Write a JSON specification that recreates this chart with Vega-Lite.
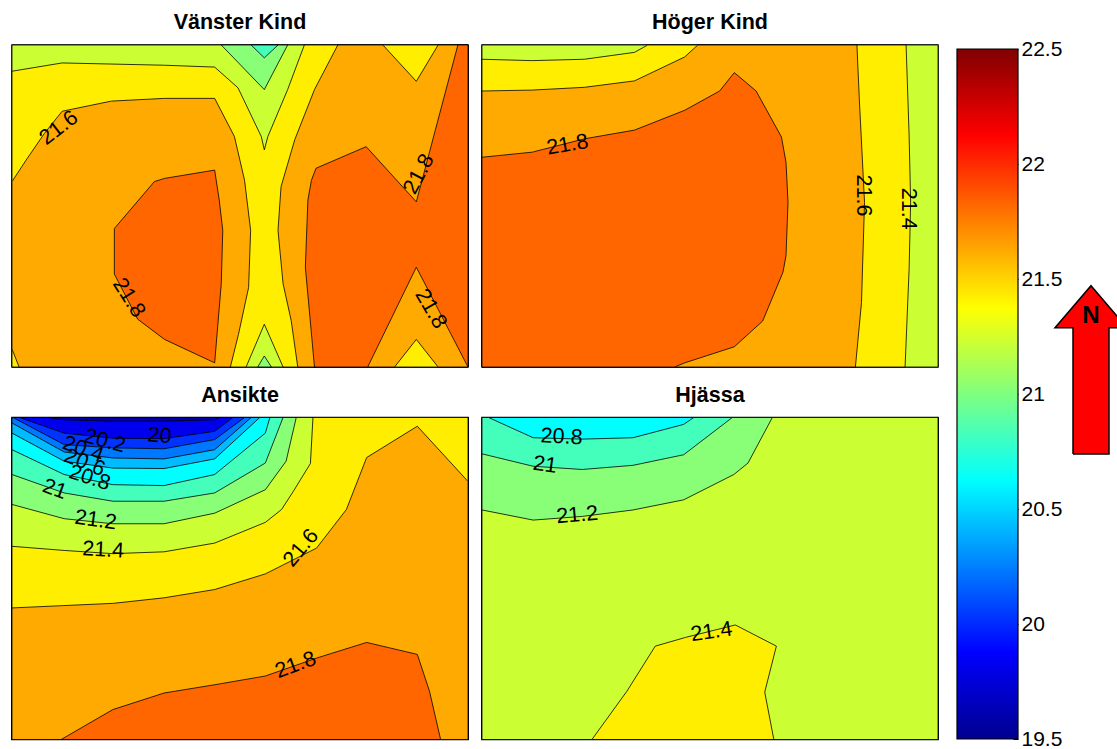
{
  "$schema": "https://vega.github.io/schema/vega-lite/v6.json",
  "background": "white",
  "padding": {"left": 10, "top": 0, "right": 0, "bottom": 0},
  "config": {"font": "Liberation Sans", "view": {"stroke": "black", "strokeWidth": 1.5}},
  "datasets": {
    "contours": [
      {"p":"Vänster Kind","k":"poly","id":"g01","lev":21.2,"x":0,"y":0},
      {"p":"Vänster Kind","k":"poly","id":"g01","lev":21.2,"x":9,"y":0},
      {"p":"Vänster Kind","k":"poly","id":"g01","lev":21.2,"x":9,"y":7},
      {"p":"Vänster Kind","k":"poly","id":"g01","lev":21.2,"x":0,"y":7},
      {"p":"Vänster Kind","k":"poly","id":"g01","lev":21.2,"x":0,"y":0},

      {"p":"Vänster Kind","k":"poly","id":"g02","lev":21.4,"x":0,"y":6.43},
      {"p":"Vänster Kind","k":"poly","id":"g02","lev":21.4,"x":0.99,"y":6.61},
      {"p":"Vänster Kind","k":"poly","id":"g02","lev":21.4,"x":3.01,"y":6.56},
      {"p":"Vänster Kind","k":"poly","id":"g02","lev":21.4,"x":4,"y":6.52},
      {"p":"Vänster Kind","k":"poly","id":"g02","lev":21.4,"x":4.46,"y":6.07},
      {"p":"Vänster Kind","k":"poly","id":"g02","lev":21.4,"x":4.92,"y":5.01},
      {"p":"Vänster Kind","k":"poly","id":"g02","lev":21.4,"x":4.98,"y":4.72},
      {"p":"Vänster Kind","k":"poly","id":"g02","lev":21.4,"x":5.05,"y":5.01},
      {"p":"Vänster Kind","k":"poly","id":"g02","lev":21.4,"x":5.44,"y":6.03},
      {"p":"Vänster Kind","k":"poly","id":"g02","lev":21.4,"x":5.77,"y":7},
      {"p":"Vänster Kind","k":"poly","id":"g02","lev":21.4,"x":9,"y":7},
      {"p":"Vänster Kind","k":"poly","id":"g02","lev":21.4,"x":9,"y":0},
      {"p":"Vänster Kind","k":"poly","id":"g02","lev":21.4,"x":5.35,"y":0},
      {"p":"Vänster Kind","k":"poly","id":"g02","lev":21.4,"x":4.98,"y":0.93},
      {"p":"Vänster Kind","k":"poly","id":"g02","lev":21.4,"x":4.62,"y":0},
      {"p":"Vänster Kind","k":"poly","id":"g02","lev":21.4,"x":0,"y":0},
      {"p":"Vänster Kind","k":"poly","id":"g02","lev":21.4,"x":0,"y":6.43},

      {"p":"Vänster Kind","k":"poly","id":"g03","lev":21.6,"x":0,"y":4.03},
      {"p":"Vänster Kind","k":"poly","id":"g03","lev":21.6,"x":0.28,"y":4.5},
      {"p":"Vänster Kind","k":"poly","id":"g03","lev":21.6,"x":0.64,"y":5.08},
      {"p":"Vänster Kind","k":"poly","id":"g03","lev":21.6,"x":0.99,"y":5.56},
      {"p":"Vänster Kind","k":"poly","id":"g03","lev":21.6,"x":1.96,"y":5.78},
      {"p":"Vänster Kind","k":"poly","id":"g03","lev":21.6,"x":3.01,"y":5.84},
      {"p":"Vänster Kind","k":"poly","id":"g03","lev":21.6,"x":4,"y":5.84},
      {"p":"Vänster Kind","k":"poly","id":"g03","lev":21.6,"x":4.39,"y":5.01},
      {"p":"Vänster Kind","k":"poly","id":"g03","lev":21.6,"x":4.59,"y":4.06},
      {"p":"Vänster Kind","k":"poly","id":"g03","lev":21.6,"x":4.71,"y":2.97},
      {"p":"Vänster Kind","k":"poly","id":"g03","lev":21.6,"x":4.67,"y":1.73},
      {"p":"Vänster Kind","k":"poly","id":"g03","lev":21.6,"x":4.47,"y":0.71},
      {"p":"Vänster Kind","k":"poly","id":"g03","lev":21.6,"x":4.31,"y":0},
      {"p":"Vänster Kind","k":"poly","id":"g03","lev":21.6,"x":0.14,"y":0},
      {"p":"Vänster Kind","k":"poly","id":"g03","lev":21.6,"x":0,"y":0.39},
      {"p":"Vänster Kind","k":"poly","id":"g03","lev":21.6,"x":0,"y":4.03},

      {"p":"Vänster Kind","k":"poly","id":"g04","lev":21.6,"x":6.43,"y":7},
      {"p":"Vänster Kind","k":"poly","id":"g04","lev":21.6,"x":7.32,"y":7},
      {"p":"Vänster Kind","k":"poly","id":"g04","lev":21.6,"x":7.98,"y":6.21},
      {"p":"Vänster Kind","k":"poly","id":"g04","lev":21.6,"x":8.41,"y":7},
      {"p":"Vänster Kind","k":"poly","id":"g04","lev":21.6,"x":9,"y":7},
      {"p":"Vänster Kind","k":"poly","id":"g04","lev":21.6,"x":9,"y":0},
      {"p":"Vänster Kind","k":"poly","id":"g04","lev":21.6,"x":8.41,"y":0},
      {"p":"Vänster Kind","k":"poly","id":"g04","lev":21.6,"x":7.98,"y":0.6},
      {"p":"Vänster Kind","k":"poly","id":"g04","lev":21.6,"x":7.55,"y":0},
      {"p":"Vänster Kind","k":"poly","id":"g04","lev":21.6,"x":5.64,"y":0},
      {"p":"Vänster Kind","k":"poly","id":"g04","lev":21.6,"x":5.51,"y":1.01},
      {"p":"Vänster Kind","k":"poly","id":"g04","lev":21.6,"x":5.35,"y":1.81},
      {"p":"Vänster Kind","k":"poly","id":"g04","lev":21.6,"x":5.25,"y":2.97},
      {"p":"Vänster Kind","k":"poly","id":"g04","lev":21.6,"x":5.31,"y":3.92},
      {"p":"Vänster Kind","k":"poly","id":"g04","lev":21.6,"x":5.58,"y":4.94},
      {"p":"Vänster Kind","k":"poly","id":"g04","lev":21.6,"x":5.97,"y":6.03},
      {"p":"Vänster Kind","k":"poly","id":"g04","lev":21.6,"x":6.43,"y":7},

      {"p":"Vänster Kind","k":"poly","id":"g05","lev":21.8,"x":2.02,"y":3.01},
      {"p":"Vänster Kind","k":"poly","id":"g05","lev":21.8,"x":2.81,"y":4.03},
      {"p":"Vänster Kind","k":"poly","id":"g05","lev":21.8,"x":3.01,"y":4.1},
      {"p":"Vänster Kind","k":"poly","id":"g05","lev":21.8,"x":4,"y":4.28},
      {"p":"Vänster Kind","k":"poly","id":"g05","lev":21.8,"x":4.09,"y":3.63},
      {"p":"Vänster Kind","k":"poly","id":"g05","lev":21.8,"x":4.16,"y":2.97},
      {"p":"Vänster Kind","k":"poly","id":"g05","lev":21.8,"x":4.13,"y":1.81},
      {"p":"Vänster Kind","k":"poly","id":"g05","lev":21.8,"x":4,"y":0.09},
      {"p":"Vänster Kind","k":"poly","id":"g05","lev":21.8,"x":3.01,"y":0.6},
      {"p":"Vänster Kind","k":"poly","id":"g05","lev":21.8,"x":2.48,"y":1.04},
      {"p":"Vänster Kind","k":"poly","id":"g05","lev":21.8,"x":2.02,"y":2.02},
      {"p":"Vänster Kind","k":"poly","id":"g05","lev":21.8,"x":2.02,"y":3.01},

      {"p":"Vänster Kind","k":"poly","id":"g06","lev":21.8,"x":6,"y":4.32},
      {"p":"Vänster Kind","k":"poly","id":"g06","lev":21.8,"x":6.99,"y":4.79},
      {"p":"Vänster Kind","k":"poly","id":"g06","lev":21.8,"x":7.98,"y":3.59},
      {"p":"Vänster Kind","k":"poly","id":"g06","lev":21.8,"x":8.8,"y":7},
      {"p":"Vänster Kind","k":"poly","id":"g06","lev":21.8,"x":9,"y":7},
      {"p":"Vänster Kind","k":"poly","id":"g06","lev":21.8,"x":9,"y":0},
      {"p":"Vänster Kind","k":"poly","id":"g06","lev":21.8,"x":7.98,"y":2.17},
      {"p":"Vänster Kind","k":"poly","id":"g06","lev":21.8,"x":7.02,"y":0},
      {"p":"Vänster Kind","k":"poly","id":"g06","lev":21.8,"x":5.97,"y":0},
      {"p":"Vänster Kind","k":"poly","id":"g06","lev":21.8,"x":5.79,"y":2.17},
      {"p":"Vänster Kind","k":"poly","id":"g06","lev":21.8,"x":5.84,"y":3.63},
      {"p":"Vänster Kind","k":"poly","id":"g06","lev":21.8,"x":5.91,"y":4.06},
      {"p":"Vänster Kind","k":"poly","id":"g06","lev":21.8,"x":6,"y":4.32},

      {"p":"Vänster Kind","k":"poly","id":"g07","lev":21,"x":4.13,"y":7},
      {"p":"Vänster Kind","k":"poly","id":"g07","lev":21,"x":4.98,"y":6.03},
      {"p":"Vänster Kind","k":"poly","id":"g07","lev":21,"x":5.44,"y":7},
      {"p":"Vänster Kind","k":"poly","id":"g07","lev":21,"x":4.13,"y":7},

      {"p":"Vänster Kind","k":"poly","id":"g08","lev":20.8,"x":4.72,"y":7},
      {"p":"Vänster Kind","k":"poly","id":"g08","lev":20.8,"x":4.98,"y":6.72},
      {"p":"Vänster Kind","k":"poly","id":"g08","lev":20.8,"x":5.25,"y":7},
      {"p":"Vänster Kind","k":"poly","id":"g08","lev":20.8,"x":4.72,"y":7},

      {"p":"Vänster Kind","k":"poly","id":"g09","lev":21,"x":4.85,"y":0},
      {"p":"Vänster Kind","k":"poly","id":"g09","lev":21,"x":4.98,"y":0.24},
      {"p":"Vänster Kind","k":"poly","id":"g09","lev":21,"x":5.12,"y":0},
      {"p":"Vänster Kind","k":"poly","id":"g09","lev":21,"x":4.85,"y":0},

      {"p":"Höger Kind","k":"poly","id":"g10","lev":21.2,"x":0,"y":0},
      {"p":"Höger Kind","k":"poly","id":"g10","lev":21.2,"x":9,"y":0},
      {"p":"Höger Kind","k":"poly","id":"g10","lev":21.2,"x":9,"y":7},
      {"p":"Höger Kind","k":"poly","id":"g10","lev":21.2,"x":0,"y":7},
      {"p":"Höger Kind","k":"poly","id":"g10","lev":21.2,"x":0,"y":0},

      {"p":"Höger Kind","k":"poly","id":"g11","lev":21.4,"x":0,"y":6.69},
      {"p":"Höger Kind","k":"poly","id":"g11","lev":21.4,"x":0.99,"y":6.66},
      {"p":"Höger Kind","k":"poly","id":"g11","lev":21.4,"x":2.02,"y":6.69},
      {"p":"Höger Kind","k":"poly","id":"g11","lev":21.4,"x":3.01,"y":6.84},
      {"p":"Höger Kind","k":"poly","id":"g11","lev":21.4,"x":3.27,"y":7},
      {"p":"Höger Kind","k":"poly","id":"g11","lev":21.4,"x":8.37,"y":7},
      {"p":"Höger Kind","k":"poly","id":"g11","lev":21.4,"x":8.43,"y":5.04},
      {"p":"Höger Kind","k":"poly","id":"g11","lev":21.4,"x":8.46,"y":3.58},
      {"p":"Höger Kind","k":"poly","id":"g11","lev":21.4,"x":8.43,"y":2.13},
      {"p":"Höger Kind","k":"poly","id":"g11","lev":21.4,"x":8.35,"y":0},
      {"p":"Höger Kind","k":"poly","id":"g11","lev":21.4,"x":0,"y":0},
      {"p":"Höger Kind","k":"poly","id":"g11","lev":21.4,"x":0,"y":6.69},

      {"p":"Höger Kind","k":"poly","id":"g12","lev":21.6,"x":0,"y":6},
      {"p":"Höger Kind","k":"poly","id":"g12","lev":21.6,"x":0.99,"y":6.02},
      {"p":"Höger Kind","k":"poly","id":"g12","lev":21.6,"x":2.02,"y":6.08},
      {"p":"Höger Kind","k":"poly","id":"g12","lev":21.6,"x":3.01,"y":6.22},
      {"p":"Höger Kind","k":"poly","id":"g12","lev":21.6,"x":4,"y":6.74},
      {"p":"Höger Kind","k":"poly","id":"g12","lev":21.6,"x":4.26,"y":7},
      {"p":"Höger Kind","k":"poly","id":"g12","lev":21.6,"x":7.4,"y":7},
      {"p":"Höger Kind","k":"poly","id":"g12","lev":21.6,"x":7.45,"y":5.76},
      {"p":"Höger Kind","k":"poly","id":"g12","lev":21.6,"x":7.55,"y":3.58},
      {"p":"Höger Kind","k":"poly","id":"g12","lev":21.6,"x":7.49,"y":1.4},
      {"p":"Höger Kind","k":"poly","id":"g12","lev":21.6,"x":7.37,"y":0},
      {"p":"Höger Kind","k":"poly","id":"g12","lev":21.6,"x":0,"y":0},
      {"p":"Höger Kind","k":"poly","id":"g12","lev":21.6,"x":0,"y":6},

      {"p":"Höger Kind","k":"poly","id":"g13","lev":21.8,"x":0,"y":4.56},
      {"p":"Höger Kind","k":"poly","id":"g13","lev":21.8,"x":0.99,"y":4.67},
      {"p":"Höger Kind","k":"poly","id":"g13","lev":21.8,"x":2.02,"y":4.96},
      {"p":"Höger Kind","k":"poly","id":"g13","lev":21.8,"x":3.01,"y":5.15},
      {"p":"Höger Kind","k":"poly","id":"g13","lev":21.8,"x":4,"y":5.58},
      {"p":"Höger Kind","k":"poly","id":"g13","lev":21.8,"x":4.69,"y":6},
      {"p":"Höger Kind","k":"poly","id":"g13","lev":21.8,"x":4.98,"y":6.4},
      {"p":"Höger Kind","k":"poly","id":"g13","lev":21.8,"x":5.41,"y":6},
      {"p":"Höger Kind","k":"poly","id":"g13","lev":21.8,"x":5.91,"y":5},
      {"p":"Höger Kind","k":"poly","id":"g13","lev":21.8,"x":6,"y":4.45},
      {"p":"Höger Kind","k":"poly","id":"g13","lev":21.8,"x":6.04,"y":3.58},
      {"p":"Höger Kind","k":"poly","id":"g13","lev":21.8,"x":6,"y":2.42},
      {"p":"Höger Kind","k":"poly","id":"g13","lev":21.8,"x":5.94,"y":2.06},
      {"p":"Höger Kind","k":"poly","id":"g13","lev":21.8,"x":5.54,"y":1},
      {"p":"Höger Kind","k":"poly","id":"g13","lev":21.8,"x":4.98,"y":0.44},
      {"p":"Höger Kind","k":"poly","id":"g13","lev":21.8,"x":4,"y":0.09},
      {"p":"Höger Kind","k":"poly","id":"g13","lev":21.8,"x":3.8,"y":0},
      {"p":"Höger Kind","k":"poly","id":"g13","lev":21.8,"x":0,"y":0},
      {"p":"Höger Kind","k":"poly","id":"g13","lev":21.8,"x":0,"y":4.56},

      {"p":"Ansikte","k":"poly","id":"g14","lev":19.6,"x":0,"y":0},
      {"p":"Ansikte","k":"poly","id":"g14","lev":19.6,"x":9,"y":0},
      {"p":"Ansikte","k":"poly","id":"g14","lev":19.6,"x":9,"y":7},
      {"p":"Ansikte","k":"poly","id":"g14","lev":19.6,"x":0,"y":7},
      {"p":"Ansikte","k":"poly","id":"g14","lev":19.6,"x":0,"y":0},

      {"p":"Ansikte","k":"poly","id":"g15","lev":19.8,"x":0.71,"y":7},
      {"p":"Ansikte","k":"poly","id":"g15","lev":19.8,"x":1.03,"y":6.95},
      {"p":"Ansikte","k":"poly","id":"g15","lev":19.8,"x":1.99,"y":6.92},
      {"p":"Ansikte","k":"poly","id":"g15","lev":19.8,"x":3,"y":6.92},
      {"p":"Ansikte","k":"poly","id":"g15","lev":19.8,"x":4,"y":6.95},
      {"p":"Ansikte","k":"poly","id":"g15","lev":19.8,"x":4.1,"y":7},
      {"p":"Ansikte","k":"poly","id":"g15","lev":19.8,"x":9,"y":7},
      {"p":"Ansikte","k":"poly","id":"g15","lev":19.8,"x":9,"y":0},
      {"p":"Ansikte","k":"poly","id":"g15","lev":19.8,"x":0,"y":0},
      {"p":"Ansikte","k":"poly","id":"g15","lev":19.8,"x":0,"y":7},
      {"p":"Ansikte","k":"poly","id":"g15","lev":19.8,"x":0.71,"y":7},

      {"p":"Ansikte","k":"poly","id":"g16","lev":20,"x":0.15,"y":7},
      {"p":"Ansikte","k":"poly","id":"g16","lev":20,"x":1.03,"y":6.66},
      {"p":"Ansikte","k":"poly","id":"g16","lev":20,"x":1.99,"y":6.55},
      {"p":"Ansikte","k":"poly","id":"g16","lev":20,"x":3,"y":6.54},
      {"p":"Ansikte","k":"poly","id":"g16","lev":20,"x":4,"y":6.7},
      {"p":"Ansikte","k":"poly","id":"g16","lev":20,"x":4.36,"y":7},
      {"p":"Ansikte","k":"poly","id":"g16","lev":20,"x":9,"y":7},
      {"p":"Ansikte","k":"poly","id":"g16","lev":20,"x":9,"y":0},
      {"p":"Ansikte","k":"poly","id":"g16","lev":20,"x":0,"y":0},
      {"p":"Ansikte","k":"poly","id":"g16","lev":20,"x":0,"y":7},
      {"p":"Ansikte","k":"poly","id":"g16","lev":20,"x":0.15,"y":7},

      {"p":"Ansikte","k":"poly","id":"g17","lev":20.2,"x":0.02,"y":7},
      {"p":"Ansikte","k":"poly","id":"g17","lev":20.2,"x":1.03,"y":6.41},
      {"p":"Ansikte","k":"poly","id":"g17","lev":20.2,"x":1.99,"y":6.34},
      {"p":"Ansikte","k":"poly","id":"g17","lev":20.2,"x":3,"y":6.32},
      {"p":"Ansikte","k":"poly","id":"g17","lev":20.2,"x":4,"y":6.52},
      {"p":"Ansikte","k":"poly","id":"g17","lev":20.2,"x":4.59,"y":7},
      {"p":"Ansikte","k":"poly","id":"g17","lev":20.2,"x":9,"y":7},
      {"p":"Ansikte","k":"poly","id":"g17","lev":20.2,"x":9,"y":0},
      {"p":"Ansikte","k":"poly","id":"g17","lev":20.2,"x":0,"y":0},
      {"p":"Ansikte","k":"poly","id":"g17","lev":20.2,"x":0,"y":7},
      {"p":"Ansikte","k":"poly","id":"g17","lev":20.2,"x":0.02,"y":7},

      {"p":"Ansikte","k":"poly","id":"g18","lev":20.4,"x":0,"y":6.88},
      {"p":"Ansikte","k":"poly","id":"g18","lev":20.4,"x":1.03,"y":6.25},
      {"p":"Ansikte","k":"poly","id":"g18","lev":20.4,"x":1.99,"y":6.12},
      {"p":"Ansikte","k":"poly","id":"g18","lev":20.4,"x":3,"y":6.1},
      {"p":"Ansikte","k":"poly","id":"g18","lev":20.4,"x":4,"y":6.3},
      {"p":"Ansikte","k":"poly","id":"g18","lev":20.4,"x":4.72,"y":7},
      {"p":"Ansikte","k":"poly","id":"g18","lev":20.4,"x":9,"y":7},
      {"p":"Ansikte","k":"poly","id":"g18","lev":20.4,"x":9,"y":0},
      {"p":"Ansikte","k":"poly","id":"g18","lev":20.4,"x":0,"y":0},
      {"p":"Ansikte","k":"poly","id":"g18","lev":20.4,"x":0,"y":6.88},

      {"p":"Ansikte","k":"poly","id":"g19","lev":20.6,"x":0,"y":6.66},
      {"p":"Ansikte","k":"poly","id":"g19","lev":20.6,"x":1.03,"y":6.05},
      {"p":"Ansikte","k":"poly","id":"g19","lev":20.6,"x":1.99,"y":5.9},
      {"p":"Ansikte","k":"poly","id":"g19","lev":20.6,"x":3,"y":5.89},
      {"p":"Ansikte","k":"poly","id":"g19","lev":20.6,"x":4,"y":6.1},
      {"p":"Ansikte","k":"poly","id":"g19","lev":20.6,"x":4.89,"y":7},
      {"p":"Ansikte","k":"poly","id":"g19","lev":20.6,"x":9,"y":7},
      {"p":"Ansikte","k":"poly","id":"g19","lev":20.6,"x":9,"y":0},
      {"p":"Ansikte","k":"poly","id":"g19","lev":20.6,"x":0,"y":0},
      {"p":"Ansikte","k":"poly","id":"g19","lev":20.6,"x":0,"y":6.66},

      {"p":"Ansikte","k":"poly","id":"g20","lev":20.8,"x":0,"y":6.3},
      {"p":"Ansikte","k":"poly","id":"g20","lev":20.8,"x":1.03,"y":5.76},
      {"p":"Ansikte","k":"poly","id":"g20","lev":20.8,"x":1.99,"y":5.54},
      {"p":"Ansikte","k":"poly","id":"g20","lev":20.8,"x":3,"y":5.52},
      {"p":"Ansikte","k":"poly","id":"g20","lev":20.8,"x":4,"y":5.76},
      {"p":"Ansikte","k":"poly","id":"g20","lev":20.8,"x":5,"y":6.66},
      {"p":"Ansikte","k":"poly","id":"g20","lev":20.8,"x":5.09,"y":7},
      {"p":"Ansikte","k":"poly","id":"g20","lev":20.8,"x":9,"y":7},
      {"p":"Ansikte","k":"poly","id":"g20","lev":20.8,"x":9,"y":0},
      {"p":"Ansikte","k":"poly","id":"g20","lev":20.8,"x":0,"y":0},
      {"p":"Ansikte","k":"poly","id":"g20","lev":20.8,"x":0,"y":6.3},

      {"p":"Ansikte","k":"poly","id":"g21","lev":21,"x":0,"y":5.76},
      {"p":"Ansikte","k":"poly","id":"g21","lev":21,"x":1.03,"y":5.36},
      {"p":"Ansikte","k":"poly","id":"g21","lev":21,"x":1.99,"y":5.18},
      {"p":"Ansikte","k":"poly","id":"g21","lev":21,"x":3,"y":5.18},
      {"p":"Ansikte","k":"poly","id":"g21","lev":21,"x":4,"y":5.36},
      {"p":"Ansikte","k":"poly","id":"g21","lev":21,"x":5,"y":6.01},
      {"p":"Ansikte","k":"poly","id":"g21","lev":21,"x":5.35,"y":7},
      {"p":"Ansikte","k":"poly","id":"g21","lev":21,"x":9,"y":7},
      {"p":"Ansikte","k":"poly","id":"g21","lev":21,"x":9,"y":0},
      {"p":"Ansikte","k":"poly","id":"g21","lev":21,"x":0,"y":0},
      {"p":"Ansikte","k":"poly","id":"g21","lev":21,"x":0,"y":5.76},

      {"p":"Ansikte","k":"poly","id":"g22","lev":21.2,"x":0,"y":5.11},
      {"p":"Ansikte","k":"poly","id":"g22","lev":21.2,"x":1.03,"y":4.8},
      {"p":"Ansikte","k":"poly","id":"g22","lev":21.2,"x":1.99,"y":4.69},
      {"p":"Ansikte","k":"poly","id":"g22","lev":21.2,"x":3,"y":4.69},
      {"p":"Ansikte","k":"poly","id":"g22","lev":21.2,"x":4,"y":4.92},
      {"p":"Ansikte","k":"poly","id":"g22","lev":21.2,"x":5,"y":5.43},
      {"p":"Ansikte","k":"poly","id":"g22","lev":21.2,"x":5.41,"y":6.05},
      {"p":"Ansikte","k":"poly","id":"g22","lev":21.2,"x":5.61,"y":7},
      {"p":"Ansikte","k":"poly","id":"g22","lev":21.2,"x":9,"y":7},
      {"p":"Ansikte","k":"poly","id":"g22","lev":21.2,"x":9,"y":0},
      {"p":"Ansikte","k":"poly","id":"g22","lev":21.2,"x":0,"y":0},
      {"p":"Ansikte","k":"poly","id":"g22","lev":21.2,"x":0,"y":5.11},

      {"p":"Ansikte","k":"poly","id":"g23","lev":21.4,"x":0,"y":4.2},
      {"p":"Ansikte","k":"poly","id":"g23","lev":21.4,"x":1.03,"y":4.11},
      {"p":"Ansikte","k":"poly","id":"g23","lev":21.4,"x":1.99,"y":4.04},
      {"p":"Ansikte","k":"poly","id":"g23","lev":21.4,"x":3,"y":4.08},
      {"p":"Ansikte","k":"poly","id":"g23","lev":21.4,"x":4,"y":4.27},
      {"p":"Ansikte","k":"poly","id":"g23","lev":21.4,"x":5,"y":4.72},
      {"p":"Ansikte","k":"poly","id":"g23","lev":21.4,"x":5.32,"y":5},
      {"p":"Ansikte","k":"poly","id":"g23","lev":21.4,"x":5.55,"y":5.39},
      {"p":"Ansikte","k":"poly","id":"g23","lev":21.4,"x":5.89,"y":6},
      {"p":"Ansikte","k":"poly","id":"g23","lev":21.4,"x":5.94,"y":7},
      {"p":"Ansikte","k":"poly","id":"g23","lev":21.4,"x":9,"y":7},
      {"p":"Ansikte","k":"poly","id":"g23","lev":21.4,"x":9,"y":0},
      {"p":"Ansikte","k":"poly","id":"g23","lev":21.4,"x":0,"y":0},
      {"p":"Ansikte","k":"poly","id":"g23","lev":21.4,"x":0,"y":4.2},

      {"p":"Ansikte","k":"poly","id":"g24","lev":21.6,"x":0,"y":2.86},
      {"p":"Ansikte","k":"poly","id":"g24","lev":21.6,"x":1,"y":2.91},
      {"p":"Ansikte","k":"poly","id":"g24","lev":21.6,"x":2,"y":2.96},
      {"p":"Ansikte","k":"poly","id":"g24","lev":21.6,"x":3,"y":3.08},
      {"p":"Ansikte","k":"poly","id":"g24","lev":21.6,"x":4,"y":3.26},
      {"p":"Ansikte","k":"poly","id":"g24","lev":21.6,"x":5,"y":3.6},
      {"p":"Ansikte","k":"poly","id":"g24","lev":21.6,"x":6.01,"y":4.16},
      {"p":"Ansikte","k":"poly","id":"g24","lev":21.6,"x":6.6,"y":5},
      {"p":"Ansikte","k":"poly","id":"g24","lev":21.6,"x":7,"y":6.13},
      {"p":"Ansikte","k":"poly","id":"g24","lev":21.6,"x":8,"y":6.81},
      {"p":"Ansikte","k":"poly","id":"g24","lev":21.6,"x":9,"y":5.61},
      {"p":"Ansikte","k":"poly","id":"g24","lev":21.6,"x":9,"y":0},
      {"p":"Ansikte","k":"poly","id":"g24","lev":21.6,"x":0,"y":0},
      {"p":"Ansikte","k":"poly","id":"g24","lev":21.6,"x":0,"y":2.86},

      {"p":"Ansikte","k":"poly","id":"g25","lev":21.8,"x":0.97,"y":0},
      {"p":"Ansikte","k":"poly","id":"g25","lev":21.8,"x":1.99,"y":0.65},
      {"p":"Ansikte","k":"poly","id":"g25","lev":21.8,"x":3,"y":1.01},
      {"p":"Ansikte","k":"poly","id":"g25","lev":21.8,"x":4,"y":1.19},
      {"p":"Ansikte","k":"poly","id":"g25","lev":21.8,"x":5,"y":1.38},
      {"p":"Ansikte","k":"poly","id":"g25","lev":21.8,"x":6.01,"y":1.77},
      {"p":"Ansikte","k":"poly","id":"g25","lev":21.8,"x":7,"y":2.11},
      {"p":"Ansikte","k":"poly","id":"g25","lev":21.8,"x":8,"y":1.85},
      {"p":"Ansikte","k":"poly","id":"g25","lev":21.8,"x":8.24,"y":1.05},
      {"p":"Ansikte","k":"poly","id":"g25","lev":21.8,"x":8.46,"y":0},
      {"p":"Ansikte","k":"poly","id":"g25","lev":21.8,"x":0.97,"y":0},

      {"p":"Hjässa","k":"poly","id":"g26","lev":20.6,"x":0,"y":0},
      {"p":"Hjässa","k":"poly","id":"g26","lev":20.6,"x":9,"y":0},
      {"p":"Hjässa","k":"poly","id":"g26","lev":20.6,"x":9,"y":7},
      {"p":"Hjässa","k":"poly","id":"g26","lev":20.6,"x":0,"y":7},
      {"p":"Hjässa","k":"poly","id":"g26","lev":20.6,"x":0,"y":0},

      {"p":"Hjässa","k":"poly","id":"g27","lev":20.8,"x":0,"y":7},
      {"p":"Hjässa","k":"poly","id":"g27","lev":20.8,"x":0.13,"y":7},
      {"p":"Hjässa","k":"poly","id":"g27","lev":20.8,"x":1.01,"y":6.56},
      {"p":"Hjässa","k":"poly","id":"g27","lev":20.8,"x":1.98,"y":6.53},
      {"p":"Hjässa","k":"poly","id":"g27","lev":20.8,"x":2.98,"y":6.56},
      {"p":"Hjässa","k":"poly","id":"g27","lev":20.8,"x":3.98,"y":6.85},
      {"p":"Hjässa","k":"poly","id":"g27","lev":20.8,"x":4.18,"y":7},
      {"p":"Hjässa","k":"poly","id":"g27","lev":20.8,"x":9,"y":7},
      {"p":"Hjässa","k":"poly","id":"g27","lev":20.8,"x":9,"y":0},
      {"p":"Hjässa","k":"poly","id":"g27","lev":20.8,"x":0,"y":0},
      {"p":"Hjässa","k":"poly","id":"g27","lev":20.8,"x":0,"y":7},

      {"p":"Hjässa","k":"poly","id":"g28","lev":21,"x":0,"y":6.21},
      {"p":"Hjässa","k":"poly","id":"g28","lev":21,"x":1.01,"y":5.94},
      {"p":"Hjässa","k":"poly","id":"g28","lev":21,"x":1.98,"y":5.87},
      {"p":"Hjässa","k":"poly","id":"g28","lev":21,"x":2.98,"y":5.96},
      {"p":"Hjässa","k":"poly","id":"g28","lev":21,"x":3.98,"y":6.19},
      {"p":"Hjässa","k":"poly","id":"g28","lev":21,"x":4.94,"y":7},
      {"p":"Hjässa","k":"poly","id":"g28","lev":21,"x":9,"y":7},
      {"p":"Hjässa","k":"poly","id":"g28","lev":21,"x":9,"y":0},
      {"p":"Hjässa","k":"poly","id":"g28","lev":21,"x":0,"y":0},
      {"p":"Hjässa","k":"poly","id":"g28","lev":21,"x":0,"y":6.21},

      {"p":"Hjässa","k":"poly","id":"g29","lev":21.2,"x":0,"y":4.99},
      {"p":"Hjässa","k":"poly","id":"g29","lev":21.2,"x":1.01,"y":4.77},
      {"p":"Hjässa","k":"poly","id":"g29","lev":21.2,"x":1.98,"y":4.85},
      {"p":"Hjässa","k":"poly","id":"g29","lev":21.2,"x":2.98,"y":4.99},
      {"p":"Hjässa","k":"poly","id":"g29","lev":21.2,"x":3.98,"y":5.21},
      {"p":"Hjässa","k":"poly","id":"g29","lev":21.2,"x":4.97,"y":5.76},
      {"p":"Hjässa","k":"poly","id":"g29","lev":21.2,"x":5.25,"y":6.01},
      {"p":"Hjässa","k":"poly","id":"g29","lev":21.2,"x":5.73,"y":7},
      {"p":"Hjässa","k":"poly","id":"g29","lev":21.2,"x":9,"y":7},
      {"p":"Hjässa","k":"poly","id":"g29","lev":21.2,"x":9,"y":0},
      {"p":"Hjässa","k":"poly","id":"g29","lev":21.2,"x":0,"y":0},
      {"p":"Hjässa","k":"poly","id":"g29","lev":21.2,"x":0,"y":4.99},

      {"p":"Hjässa","k":"poly","id":"g30","lev":21.4,"x":2.17,"y":0},
      {"p":"Hjässa","k":"poly","id":"g30","lev":21.4,"x":2.86,"y":1.05},
      {"p":"Hjässa","k":"poly","id":"g30","lev":21.4,"x":3.42,"y":2.03},
      {"p":"Hjässa","k":"poly","id":"g30","lev":21.4,"x":4.02,"y":2.22},
      {"p":"Hjässa","k":"poly","id":"g30","lev":21.4,"x":5,"y":2.49},
      {"p":"Hjässa","k":"poly","id":"g30","lev":21.4,"x":5.81,"y":2.03},
      {"p":"Hjässa","k":"poly","id":"g30","lev":21.4,"x":5.58,"y":1.03},
      {"p":"Hjässa","k":"poly","id":"g30","lev":21.4,"x":5.76,"y":0},
      {"p":"Hjässa","k":"poly","id":"g30","lev":21.4,"x":2.17,"y":0},

      {"p":"Vänster Kind","k":"lab","t":"21.6","x":0.93,"y":5.19,"a":-38},
      {"p":"Vänster Kind","k":"lab","t":"21.8","x":2.3,"y":1.5,"a":58},
      {"p":"Vänster Kind","k":"lab","t":"21.8","x":8.04,"y":4.19,"a":-62},
      {"p":"Vänster Kind","k":"lab","t":"21.8","x":8.26,"y":1.26,"a":60},
      {"p":"Höger Kind","k":"lab","t":"21.8","x":1.69,"y":4.82,"a":-10},
      {"p":"Höger Kind","k":"lab","t":"21.6","x":7.52,"y":3.73,"a":90},
      {"p":"Höger Kind","k":"lab","t":"21.4","x":8.41,"y":3.44,"a":90},
      {"p":"Ansikte","k":"lab","t":"20","x":2.91,"y":6.59,"a":5},
      {"p":"Ansikte","k":"lab","t":"20.2","x":1.83,"y":6.48,"a":15},
      {"p":"Ansikte","k":"lab","t":"20.4","x":1.4,"y":6.3,"a":20},
      {"p":"Ansikte","k":"lab","t":"20.6","x":1.43,"y":6.01,"a":22},
      {"p":"Ansikte","k":"lab","t":"20.8","x":1.53,"y":5.68,"a":18},
      {"p":"Ansikte","k":"lab","t":"21","x":0.84,"y":5.43,"a":20},
      {"p":"Ansikte","k":"lab","t":"21.2","x":1.65,"y":4.76,"a":8},
      {"p":"Ansikte","k":"lab","t":"21.4","x":1.8,"y":4.11,"a":3},
      {"p":"Ansikte","k":"lab","t":"21.6","x":5.71,"y":4.16,"a":-50},
      {"p":"Ansikte","k":"lab","t":"21.8","x":5.6,"y":1.61,"a":-20},
      {"p":"Hjässa","k":"lab","t":"20.8","x":1.57,"y":6.57,"a":3},
      {"p":"Hjässa","k":"lab","t":"21","x":1.24,"y":5.96,"a":8},
      {"p":"Hjässa","k":"lab","t":"21.2","x":1.88,"y":4.87,"a":-5},
      {"p":"Hjässa","k":"lab","t":"21.4","x":4.53,"y":2.33,"a":-8}
    ],
    "bar": [{"lo": 19.5, "hi": 22.5}],
    "arrow": [
      {"ax": 11.6, "ay": 4.13},
      {"ax": 11.6, "ay": 5.96},
      {"ax": 9.8, "ay": 5.96},
      {"ax": 13.4, "ay": 6.57},
      {"ax": 17.0, "ay": 5.96},
      {"ax": 15.2, "ay": 5.96},
      {"ax": 15.2, "ay": 4.13},
      {"ax": 11.6, "ay": 4.13}
    ],
    "north": [{"t": "N", "ax": 13.4, "ay": 6.13}]
  },
  "spacing": 16,
  "hconcat": [
    {
      "data": {"name": "contours"},
      "columns": 2,
      "spacing": {"row": 14.5, "column": 10},
      "facet": {
        "field": "p", "type": "nominal",
        "sort": ["Vänster Kind", "Höger Kind", "Ansikte", "Hjässa"],
        "title": null,
        "header": {"labelFontSize": 21.5, "labelFontWeight": "bold", "labelColor": "black", "labelPadding": 11, "labelFont": "Liberation Sans"}
      },
      "spec": {
        "width": 456,
        "height": 322,
        "encoding": {
          "x": {"field": "x", "type": "quantitative", "scale": {"domain": [0, 9], "nice": false, "zero": false}, "axis": null},
          "y": {"field": "y", "type": "quantitative", "scale": {"domain": [0, 7], "nice": false, "zero": false}, "axis": null}
        },
        "layer": [
          {
            "transform": [{"filter": "datum.k === 'poly'"}],
            "mark": {"type": "line", "filled": true, "stroke": "black", "strokeWidth": 0.8, "strokeJoin": "round"},
            "encoding": {
              "detail": {"field": "id"},
              "order": {"value": null},
              "color": {
                "field": "lev", "type": "ordinal",
                "scale": {
                  "domain": [19.6, 19.8, 20, 20.2, 20.4, 20.6, 20.8, 21, 21.2, 21.4, 21.6, 21.8],
                  "range": ["#0000aa", "#0000ee", "#0033ff", "#0077ff", "#00bbff", "#00ffff", "#44ffbb", "#88ff77", "#ccff33", "#ffee00", "#ffaa00", "#ff6600"]
                },
                "legend": null
              }
            }
          },
          {
            "transform": [{"filter": "datum.k === 'lab'"}],
            "mark": {"type": "text", "fontSize": 21.5, "align": "center", "baseline": "middle", "color": "black"},
            "encoding": {
              "text": {"field": "t"},
              "angle": {"field": "a", "type": "quantitative", "scale": null}
            }
          }
        ]
      }
    },
    {
      "width": 160,
      "height": 694,
      "view": {"stroke": null},
      "title": {"text": " ", "fontSize": 1, "offset": 36.5},
      "resolve": {"scale": {"y": "independent"}},
      "layer": [
        {
          "data": {"name": "bar"},
          "mark": {"type": "rect", "fill": {"gradient": "linear", "x1": 0, "y1": 1, "x2": 0, "y2": 0, "stops": [
            {"offset": 0, "color": "#00008f"},
            {"offset": 0.125, "color": "#0000ff"},
            {"offset": 0.375, "color": "#00ffff"},
            {"offset": 0.625, "color": "#ffff00"},
            {"offset": 0.875, "color": "#ff0000"},
            {"offset": 1, "color": "#800000"}
          ]}},
          "encoding": {
            "x": {"datum": 0, "type": "quantitative", "scale": {"domain": [0, 16], "nice": false, "zero": false}, "axis": null},
            "x2": {"datum": 6.1},
            "y": {"field": "lo", "type": "quantitative", "scale": {"domain": [19.5, 22.5], "range": [694, 4], "nice": false, "zero": false},
                  "axis": {"orient": "left", "values": [20, 20.5, 21, 21.5, 22], "labels": false, "domain": false, "grid": false, "title": null, "tickSize": -5, "tickColor": "black", "tickWidth": 1}},
            "y2": {"field": "hi"}
          }
        },
        {
          "data": {"name": "bar"},
          "mark": {"type": "rect", "filled": false, "fillOpacity": 0, "stroke": "black", "strokeWidth": 1.2},
          "encoding": {
            "x": {"datum": 0, "type": "quantitative"},
            "x2": {"datum": 6.1},
            "y": {"field": "lo", "type": "quantitative", "scale": {"domain": [19.5, 22.5], "range": [694, 4], "nice": false, "zero": false},
                  "axis": {"orient": "right", "offset": -99, "values": [19.5, 20, 20.5, 21, 21.5, 22, 22.5], "format": "~g", "domain": false, "grid": false, "title": null, "tickSize": -5, "tickColor": "black", "tickWidth": 1, "labelFontSize": 21, "labelColor": "black", "labelFont": "Liberation Sans", "labelPadding": 8, "labelOverlap": false, "labelFlush": false}},
            "y2": {"field": "hi"}
          }
        },
        {
          "data": {"name": "arrow"},
          "mark": {"type": "line", "filled": true, "color": "#ff0000", "stroke": "black", "strokeWidth": 1.5, "clip": true},
          "encoding": {
            "x": {"field": "ax", "type": "quantitative"},
            "y": {"field": "ay", "type": "quantitative", "scale": {"domain": [0, 10], "range": [694, 4], "nice": false, "zero": false}, "axis": null},
            "order": {"value": null}
          }
        },
        {
          "data": {"name": "north"},
          "mark": {"type": "text", "fontSize": 24, "fontWeight": "bold", "color": "black", "align": "center", "baseline": "middle"},
          "encoding": {
            "x": {"field": "ax", "type": "quantitative"},
            "y": {"field": "ay", "type": "quantitative", "scale": {"domain": [0, 10], "range": [694, 4], "nice": false, "zero": false}, "axis": null},
            "text": {"field": "t"}
          }
        }
      ]
    }
  ]
}
